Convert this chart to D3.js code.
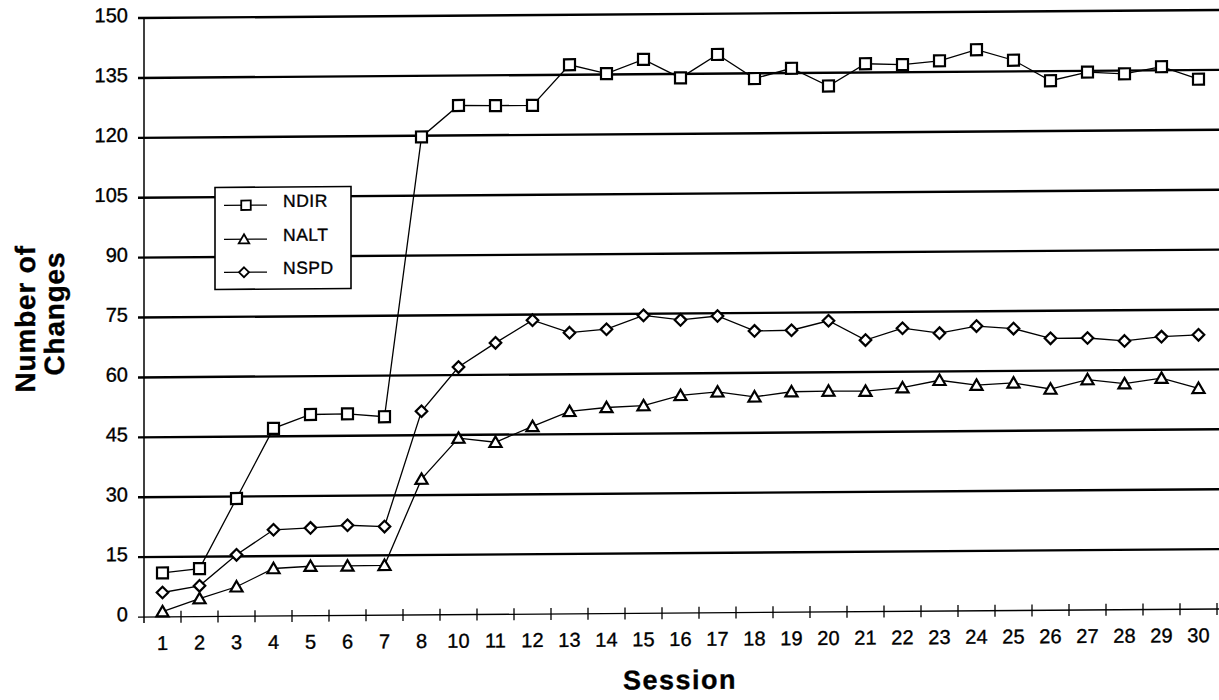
<!DOCTYPE html>
<html>
<head>
<meta charset="utf-8">
<script src="https://cdn.jsdelivr.net/npm/d3@7"></script>
<style>
  html, body { margin: 0; padding: 0; background: #fff; }
  svg { display: block; }
  text { font-family: "Liberation Sans", Arial, Helvetica, sans-serif; fill: #000; stroke: #000; stroke-width: 0.35px; }
</style>
</head>
<body>
<svg id="chart" width="1219" height="700"></svg>
<script>
const sessions = ["1","2","3","4","5","6","7","8","10","11","12","13","14","15","16","17","18","19","20","21","22","23","24","25","26","27","28","29","30"];
const ndir = [11, 12, 29.5, 47, 50.4, 50.5, 49.7, 119.7, 127.5, 127.4, 127.4, 137.5, 135.2, 138.7, 134, 139.8, 133.7, 136.2, 131.7, 137.2, 136.9, 137.8, 140.5, 137.8, 132.6, 134.7, 134.2, 135.9, 132.7];
const nalt = [1.3, 4.5, 7.4, 11.9, 12.4, 12.4, 12.5, 34, 44.2, 43.1, 47, 50.7, 51.6, 52, 54.5, 55.3, 54, 55.2, 55.3, 55.2, 56, 57.8, 56.5, 57, 55.4, 57.7, 56.6, 57.9, 55.3];
const nspd = [6.1, 7.7, 15.4, 21.6, 22, 22.6, 22.2, 51, 62, 68, 73.6, 70.4, 71.2, 74.6, 73.4, 74.3, 70.5, 70.6, 72.9, 68, 70.9, 69.6, 71.3, 70.6, 68.1, 68.1, 67.3, 68.3, 68.7];
const yTicks = [0, 15, 30, 45, 60, 75, 90, 105, 120, 135, 150];
const seriesNames = ["NDIR", "NALT", "NSPD"];

const svg = d3.select("#chart");
const skewDeg = -0.427;
const t = Math.tan(skewDeg * Math.PI / 180);
const g = svg.append("g").attr("transform", `translate(0,${-144 * t}) skewY(${skewDeg})`);

const x = d3.scaleBand().domain(sessions).range([144, 1217]).padding(0);
const y = d3.scaleLinear().domain([0, 150]).range([617, 18]);
const cx = d => x(d) + x.bandwidth() / 2;

// gridlines
g.selectAll("line.grid").data(yTicks.filter(v => v > 0)).join("line")
  .attr("x1", 138).attr("x2", 1219)
  .attr("y1", d => y(d)).attr("y2", d => y(d))
  .attr("stroke", "#000").attr("stroke-width", 2.4);

// x axis line
g.append("line").attr("x1", 138).attr("x2", 1219).attr("y1", y(0)).attr("y2", y(0))
  .attr("stroke", "#000").attr("stroke-width", 1.3);
// y axis line
g.append("line").attr("x1", 144).attr("x2", 144).attr("y1", y(150)).attr("y2", y(0) + 6)
  .attr("stroke", "#000").attr("stroke-width", 1.5);

// x ticks at band boundaries
const bounds = sessions.map(s => x(s) + x.bandwidth());
g.selectAll("line.xt").data(bounds).join("line")
  .attr("x1", d => d).attr("x2", d => d)
  .attr("y1", y(0) - 6).attr("y2", y(0) + 6)
  .attr("stroke", "#000").attr("stroke-width", 1.3);

// y tick labels
g.selectAll("text.yl").data(yTicks).join("text")
  .attr("x", 128).attr("y", d => y(d) + 4)
  .attr("text-anchor", "end").attr("font-size", 20)
  .text(d => d);

// x tick labels
g.selectAll("text.xl").data(sessions).join("text")
  .attr("x", d => cx(d)).attr("y", 650)
  .attr("text-anchor", "middle").attr("font-size", 20)
  .text(d => d);

// axis titles
g.append("text").attr("x", 680).attr("y", 693)
  .attr("text-anchor", "middle").attr("font-size", 27).attr("font-weight", "bold")
  .attr("letter-spacing", 1.5).text("Session");
g.append("text").attr("transform", "translate(35,318) rotate(-90)")
  .attr("text-anchor", "middle").attr("font-size", 28).attr("font-weight", "bold")
  .attr("letter-spacing", 0.8).text("Number of");
g.append("text").attr("transform", "translate(64,313) rotate(-90)")
  .attr("text-anchor", "middle").attr("font-size", 28).attr("font-weight", "bold")
  .attr("letter-spacing", 0.8).text("Changes");

// markers
function marker(sel, type, size) {
  const h = size / 2;
  if (type === "NDIR") {
    sel.append("rect").attr("x", -h).attr("y", -h).attr("width", size).attr("height", size);
  } else if (type === "NALT") {
    sel.append("path").attr("d", `M0,${-h * 1.05}L${h * 1.1},${h * 0.85}L${-h * 1.1},${h * 0.85}Z`);
  } else {
    sel.append("path").attr("d", `M0,${-h * 1.05}L${h * 1.05},0L0,${h * 1.05}L${-h * 1.05},0Z`);
  }
}

const data = [ndir, nalt, nspd];
const line = d3.line().x((d, i) => cx(sessions[i])).y(d => y(d));
data.forEach((vals, k) => {
  g.append("path").datum(vals).attr("d", line)
    .attr("fill", "none").attr("stroke", "#000").attr("stroke-width", 1.3);
  const pts = g.selectAll(null).data(vals).join("g")
    .attr("transform", (d, i) => `translate(${cx(sessions[i])},${y(d)})`)
    .attr("fill", "#fff").attr("stroke", "#000").attr("stroke-width", 2.2);
  pts.each(function () { marker(d3.select(this), seriesNames[k], 11); });
});

// legend
const lg = g.append("g");
lg.append("rect").attr("x", 215).attr("y", 188).attr("width", 136).attr("height", 102)
  .attr("fill", "#fff").attr("stroke", "#000").attr("stroke-width", 1.6);
const rowsY = [206, 240, 273];
seriesNames.forEach((name, i) => {
  lg.append("line").attr("x1", 224).attr("x2", 267).attr("y1", rowsY[i]).attr("y2", rowsY[i])
    .attr("stroke", "#000").attr("stroke-width", 1.2);
  const m = lg.append("g").attr("transform", `translate(${i === 0 ? 246 : 244},${rowsY[i]})`)
    .attr("fill", "#fff").attr("stroke", "#000").attr("stroke-width", 1.8);
  marker(m, name, 9.5);
  lg.append("text").attr("x", 283).attr("y", rowsY[i] + 2).attr("font-size", 17.5)
    .attr("letter-spacing", 0.5).text(name);
});
</script>
</body>
</html>
